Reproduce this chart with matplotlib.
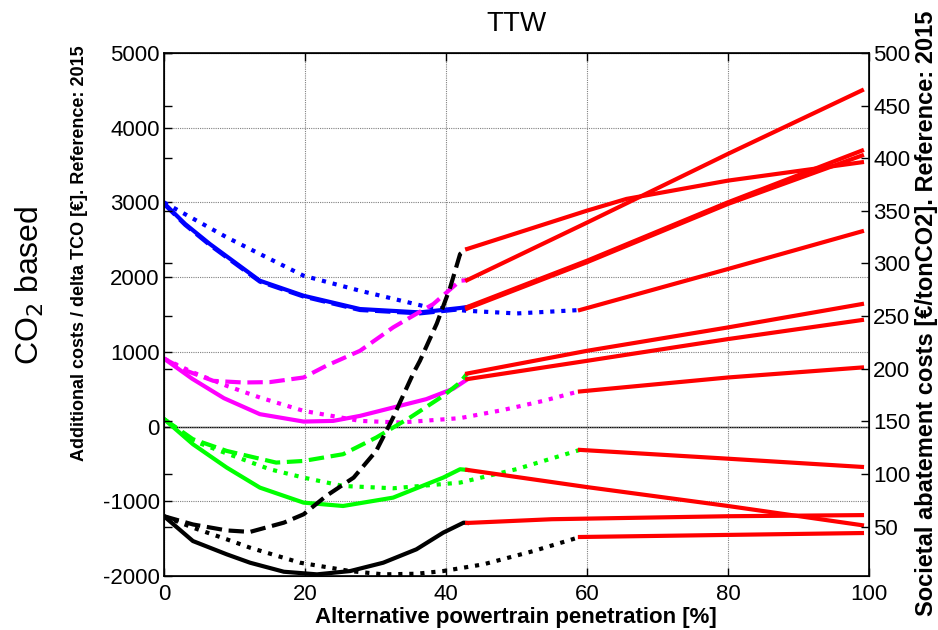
import matplotlib
matplotlib.use('Agg')
import matplotlib.pyplot as plt

plt.rcParams['font.family'] = ['Liberation Sans', 'DejaVu Sans']
plt.rcParams['axes.unicode_minus'] = False

# left part of every curve (0..43 % or 0..59 %), values in EUR
blue_solid_x = [0, 3, 6.5, 13.6, 19.8, 27.8, 36.3, 42, 43]
blue_solid_y = [2990, 2712, 2444, 1952, 1751, 1573, 1528, 1587, 1600]
blue_dashed_x = [0, 3, 6.5, 13.6, 19.8, 27.8, 36.3, 42, 43]
blue_dashed_y = [2980, 2700, 2430, 1940, 1740, 1560, 1515, 1570, 1580]
blue_dotted_x = [0, 4.2, 8.9, 13.6, 19.8, 27.8, 37.2, 42.9, 50, 59]
blue_dotted_y = [3000, 2779, 2533, 2310, 2019, 1818, 1604, 1550, 1514, 1560]

mag_dashed_x = [0, 3.2, 7, 11.2, 15, 19.8, 23, 27.8, 32.5, 34.9, 38.2, 42, 43]
mag_dashed_y = [910, 746, 612, 590, 595, 657, 813, 1014, 1327, 1460, 1640, 1952, 1960]
mag_solid_x = [0, 4, 8.5, 13.6, 19.8, 24, 27.8, 32.5, 37.2, 41, 43]
mag_solid_y = [910, 640, 380, 166, 67, 76, 143, 255, 367, 505, 630]
mag_dotted_x = [0, 4, 8.9, 13.6, 19.8, 27.8, 33.5, 42, 48, 53.8, 59]
mag_dotted_y = [910, 730, 545, 389, 210, 76, 54, 113, 220, 344, 475]

green_dashed_x = [0, 4.1, 8.9, 15.9, 19.8, 25.4, 30.1, 34.9, 39.6, 42, 43]
green_dashed_y = [100, -169, -326, -482, -460, -370, -147, 121, 411, 590, 710]
green_solid_x = [0, 4.1, 8.9, 13.6, 19.8, 25.4, 32.5, 39.6, 42, 43]
green_solid_y = [100, -236, -549, -817, -1018, -1063, -951, -683, -571, -580]
green_dotted_x = [0, 4.1, 8.9, 15, 19.8, 25.4, 32.5, 42, 50, 59]
green_dotted_y = [100, -190, -360, -571, -683, -795, -826, -750, -570, -312]

black_dashed_x = [0, 4.1, 8.9, 12.2, 17, 19.8, 23, 26.9, 30.1, 32.5, 33.5, 35.4, 36.3, 38.7, 40.6, 42, 43]
black_dashed_y = [-1200, -1310, -1390, -1410, -1286, -1174, -929, -683, -326, 121, 330, 720, 880, 1380, 1863, 2310, 2377]
black_solid_x = [0, 4.1, 8.9, 12.2, 17, 21.7, 26.4, 31.1, 35.8, 39.6, 42.5, 43]
black_solid_y = [-1200, -1532, -1710, -1822, -1943, -1978, -1934, -1822, -1643, -1420, -1286, -1290]
black_dotted_x = [0, 4.1, 8.9, 12.2, 19.3, 26.4, 31.1, 35.8, 39.6, 45.3, 52.4, 59]
black_dotted_y = [-1200, -1353, -1509, -1621, -1822, -1934, -1978, -1970, -1934, -1844, -1666, -1478]

# red continuations
red_lines = [
    ([43, 60, 80, 99], [1600, 2220, 3002, 3694]),
    ([43, 60, 80, 99], [1580, 2200, 2980, 3628]),
    ([59, 80, 99], [1560, 2109, 2613]),
    ([43, 60, 80, 99], [1960, 2730, 3650, 4500]),
    ([43, 60, 65.6, 80, 99], [2377, 2890, 3047, 3292, 3538]),
    ([43, 60, 80, 99], [710, 1014, 1327, 1640]),
    ([43, 60, 80, 99], [635, 880, 1171, 1426]),
    ([59, 80, 99], [470, 657, 791]),
    ([43, 60, 80, 99], [-580, -810, -1063, -1320]),
    ([59, 80, 99], [-312, -430, -540]),
    ([43, 55, 80, 99], [-1290, -1240, -1200, -1185]),
    ([59, 80, 99], [-1478, -1450, -1425]),
]

left_ticks = [-2000, -1000, 0, 1000, 2000, 3000, 4000, 5000]
right_ticks = [50, 100, 150, 200, 250, 300, 350, 400, 450, 500]
x_ticks = [0, 20, 40, 60, 80, 100]

fig = plt.figure(figsize=(9.38, 6.30), dpi=100)
ax = fig.add_axes([164 / 938, 1 - 576 / 630, 705 / 938, 523 / 630])

lw = 3
ax.axhline(0, color='black', lw=1, zorder=1)
ax.plot(blue_solid_x, blue_solid_y, color='blue', lw=lw, ls='-')
ax.plot(blue_dashed_x, blue_dashed_y, color='blue', lw=lw, ls='--')
ax.plot(blue_dotted_x, blue_dotted_y, color='blue', lw=lw, ls=':')
ax.plot(mag_dashed_x, mag_dashed_y, color='magenta', lw=lw, ls='--')
ax.plot(mag_solid_x, mag_solid_y, color='magenta', lw=lw, ls='-')
ax.plot(mag_dotted_x, mag_dotted_y, color='magenta', lw=lw, ls=':')
ax.plot(green_dashed_x, green_dashed_y, color='lime', lw=lw, ls='--')
ax.plot(green_solid_x, green_solid_y, color='lime', lw=lw, ls='-')
ax.plot(green_dotted_x, green_dotted_y, color='lime', lw=lw, ls=':')
ax.plot(black_dashed_x, black_dashed_y, color='black', lw=lw, ls='--')
ax.plot(black_solid_x, black_solid_y, color='black', lw=lw, ls='-')
ax.plot(black_dotted_x, black_dotted_y, color='black', lw=lw, ls=':')
for xs, ys in red_lines:
    ax.plot(xs, ys, color='red', lw=lw, ls='-')

ax.set_xlim(0, 100)
ax.set_ylim(-2000, 5000)
ax.set_xticks(x_ticks)
ax.set_yticks(left_ticks)
ax.grid(True, color='0.5', ls=(0, (1, 1)), lw=0.8)
ax.tick_params(direction='in', length=6, width=1, labelsize=16, top=True, right=True, pad=3)
ax.tick_params(axis='x', pad=6)
for s in ax.spines.values():
    s.set_linewidth(1.2)

ax2 = ax.twinx()
ax2.set_ylim(3, 500)
ax2.set_yticks(right_ticks)
ax2.tick_params(direction='in', length=6, width=1, labelsize=16, left=True, pad=3)
ax2.set_position(ax.get_position())

ax.set_title('TTW', fontsize=20, pad=16)
fig.text(516 / 938, 1 - 617 / 630, 'Alternative powertrain penetration [%]',
         fontsize=16, fontweight='bold', ha='center', va='center')
fig.text(80 / 938, 1 - 253 / 630, 'Additional costs / delta TCO [€]. Reference: 2015',
         fontsize=13, fontweight='bold', rotation=90, ha='center', va='center')
fig.text(30 / 938, 1 - 285 / 630, 'CO$_2$ based', fontsize=23,
         rotation=90, ha='center', va='center')
fig.text(926 / 938, 1 - 313 / 630, 'Societal abatement costs [€/tonCO2]. Reference: 2015',
         fontsize=17, fontweight='bold', rotation=90, ha='center', va='center')

plt.savefig('out.png', dpi=100)
